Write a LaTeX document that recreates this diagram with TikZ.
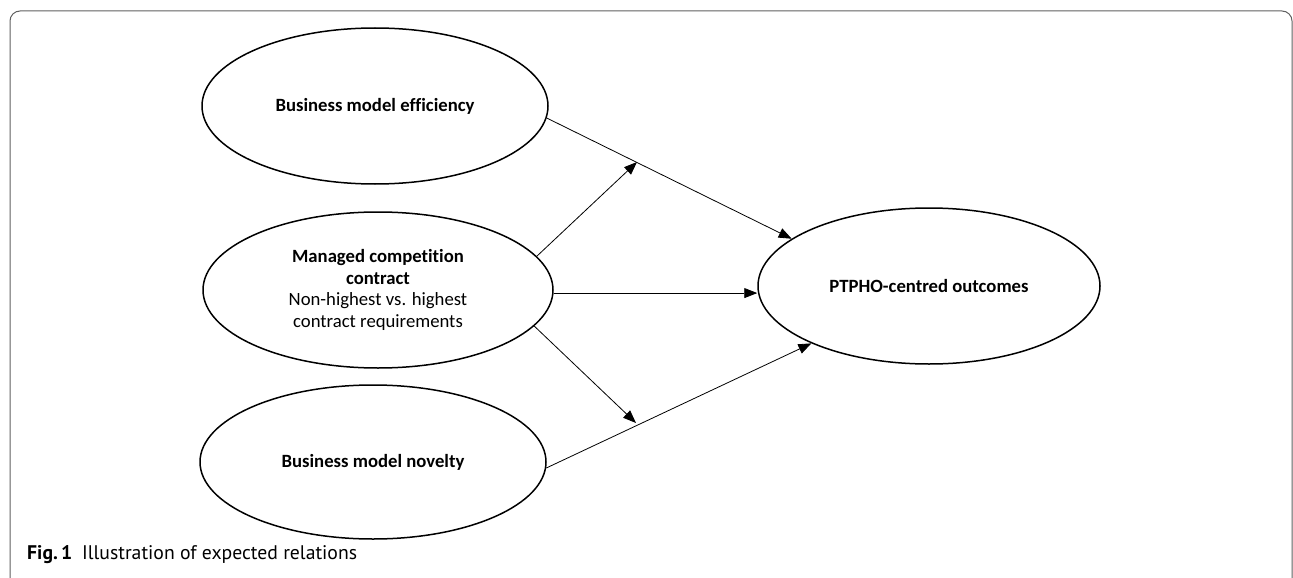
\documentclass[tikz,border=0pt]{standalone}
\usepackage{fontspec}
\setmainfont{Carlito}[Ligatures=NoCommon]
\newfontfamily\capfont{PT Sans}
\usetikzlibrary{shapes.geometric,arrows.meta}
\begin{document}
\begin{tikzpicture}[x=1pt,y=-1pt,
  oval/.style={draw, ellipse, line width=1.5pt, inner sep=0pt, align=center, font=\fontsize{18.7}{21.7}\selectfont},
  link/.style={line width=0.8pt, -{Triangle[length=13pt,width=10pt]}}]
\useasboundingbox (0,0) rectangle (1293,578);
\draw[gray!75!black, line width=1pt, rounded corners=10pt] (10,11) rectangle (1292,590);
\node[oval, minimum width=346pt, minimum height=156pt] (eff) at (375,106) {\bfseries Business model efficiency};
\node[oval, minimum width=350pt, minimum height=156pt] (mc) at (378,290) {\bfseries Managed competition\\\bfseries contract\\Non-highest vs. highest\\contract requirements};
\node[oval, minimum width=346pt, minimum height=154pt] (nov) at (373,462) {\bfseries Business model novelty};
\node[oval, minimum width=342pt, minimum height=156pt] (out) at (929,286) {\bfseries PTPHO-centred outcomes};
\coordinate (m1) at (637,162);
\coordinate (m2) at (636,423);
\draw[link] (eff.-4) -- (out.161.6);
\draw[link] (mc.12) -- (m1);
\draw[link] (mc.-1.5) -- (mc.-1.5 -| out.west);
\draw[link] (mc.-13) -- (m2);
\draw[link] (nov.-2) -- (out.206);
\node[anchor=base west, inner sep=0pt, font=\capfont\fontsize{19.7}{22}\selectfont] (cap) at (27,559) {\textbf{Fig.\,1}\hspace{0.5em}Illustration of expected relations};
\end{tikzpicture}
\end{document}
